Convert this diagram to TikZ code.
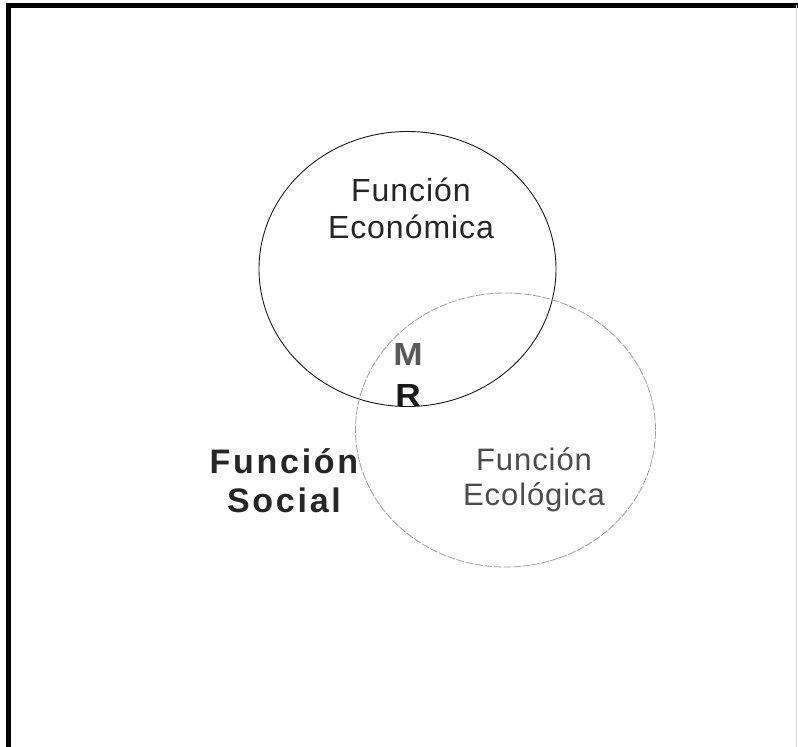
\documentclass[tikz,border=0pt]{standalone}
\usepackage{fontspec}
\setmainfont{Liberation Sans}
\usetikzlibrary{shapes,positioning}
\tikzstyle{funcion} = [draw, ellipse, inner sep=0pt, minimum width=297pt, minimum height=275pt]
\tikzstyle{etiqueta} = [align=center, font=\fontsize{32}{37}\selectfont\addfontfeature{LetterSpace=3}, inner sep=0pt]
\tikzstyle{social} = [align=center, font=\fontsize{34}{39}\selectfont\bfseries\addfontfeature{LetterSpace=8}, inner sep=0pt]
\tikzstyle{letra} = [font=\fontsize{32}{32}\selectfont\bfseries, inner sep=0pt, xscale=1.1]

\begin{document}
\begin{tikzpicture}[x=1pt, y=-1pt]
	\useasboundingbox (0,0) rectangle (798,747);
	% marco
	\draw [line width=5pt] (8,747) -- (8,5) -- (798,5);
	\draw [gray!25, line width=1pt] (796,5) -- (796,747);
	
	\node [funcion, line width=0.9pt, black!90] (economica) at (407.5,269) {};
	\node [funcion, line width=0.8pt, gray!75, dash pattern=on 8pt off 1.5pt, minimum width=300pt, minimum height=274pt] (ecologica) at (505.5,430) {};
	
	\node [etiqueta, black!85] (teco) at (411,208) {Función\\Económica};
	\node [etiqueta, black!70, font=\fontsize{31}{35}\selectfont\addfontfeature{LetterSpace=3}] (tecol) at (534,480) {Función\\Ecológica};
	\node [social, black!85] (tsocial) at (284,481) {Función\\Social};
	
	\node [letra, black!65] (m) at (408,354) {M};
	\node [letra, black!90, below of=m, node distance=41pt] (r) {R};
\end{tikzpicture}
\end{document}
